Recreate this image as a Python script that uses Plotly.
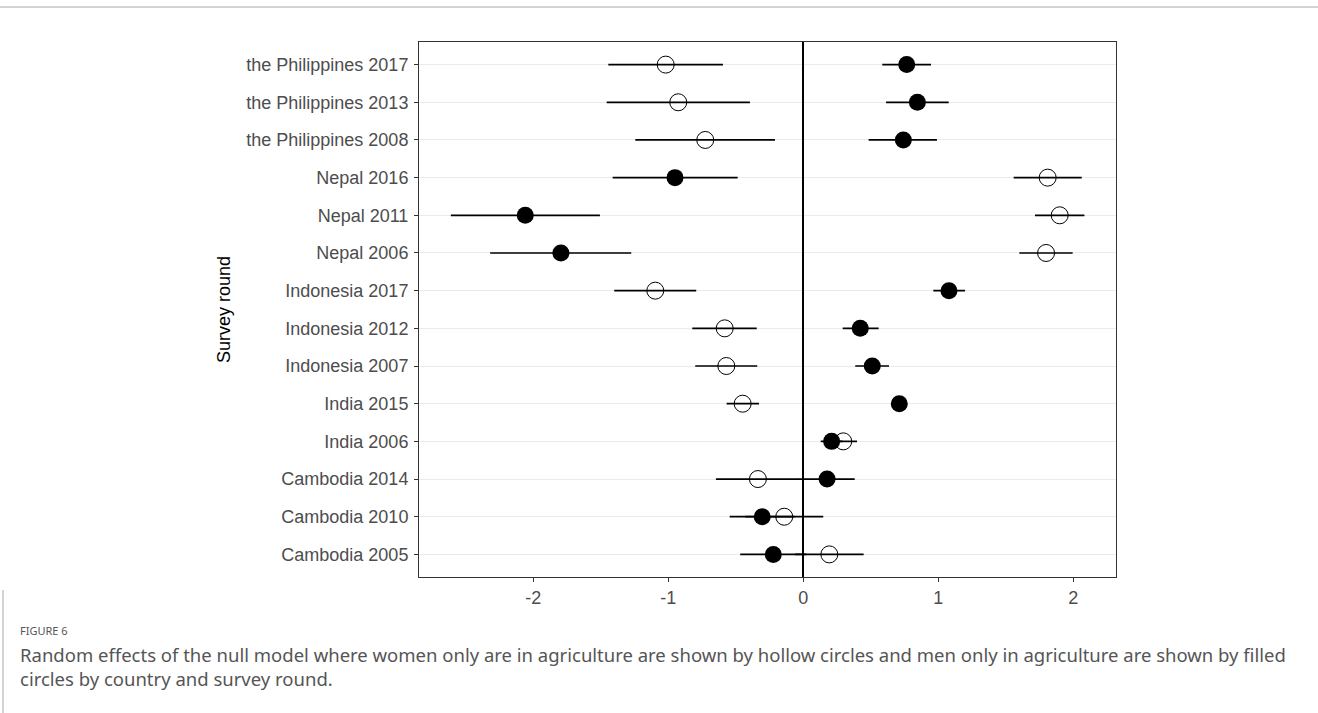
import plotly.graph_objects as go

# Survey rounds, bottom to top
rounds = ["Cambodia 2005", "Cambodia 2010", "Cambodia 2014", "India 2006", "India 2015",
          "Indonesia 2007", "Indonesia 2012", "Indonesia 2017", "Nepal 2006", "Nepal 2011",
          "Nepal 2016", "the Philippines 2008", "the Philippines 2013", "the Philippines 2017"]

# Women only in agriculture (hollow circles)
women_est = [0.193, -0.141, -0.336, 0.296, -0.449, -0.570, -0.582, -1.096, 1.798, 1.899, 1.810, -0.726, -0.926, -1.019]
women_lo = [-0.061, -0.430, -0.647, 0.194, -0.568, -0.800, -0.822, -1.400, 1.600, 1.716, 1.558, -1.244, -1.456, -1.444]
women_hi = [0.447, 0.148, -0.025, 0.398, -0.328, -0.341, -0.345, -0.793, 1.995, 2.082, 2.062, -0.210, -0.395, -0.595]

# Men only in agriculture (filled circles)
men_est = [-0.222, -0.304, 0.176, 0.210, 0.711, 0.511, 0.422, 1.079, -1.795, -2.059, -0.950, 0.741, 0.845, 0.766]
men_lo = [-0.467, -0.545, -0.029, 0.129, 0.660, 0.385, 0.292, 0.963, -2.319, -2.610, -1.412, 0.484, 0.613, 0.585]
men_hi = [0.023, -0.063, 0.381, 0.290, 0.760, 0.635, 0.558, 1.198, -1.274, -1.506, -0.486, 0.990, 1.077, 0.946]

x_ticks = [-2, -1, 0, 1, 2]

FIG_W, FIG_H = 1318, 713
L, R, T, B = 419, 1116, 42, 577


def px(x):
    return (x - L) / (R - L)


def py(y):
    return (B - y) / (B - T)


fig = go.Figure()

fig.add_trace(go.Scatter(
    x=women_est, y=rounds, mode="markers", name="Women only",
    marker=dict(symbol="circle-open", size=17, color="black", line=dict(width=1, color="black")),
    error_x=dict(type="data", symmetric=False,
                 array=[h - e for h, e in zip(women_hi, women_est)],
                 arrayminus=[e - l for e, l in zip(women_est, women_lo)],
                 color="black", thickness=1.7, width=0),
    showlegend=False,
))
fig.add_trace(go.Scatter(
    x=men_est, y=rounds, mode="markers", name="Men only",
    marker=dict(symbol="circle", size=17, color="black", line=dict(width=0)),
    error_x=dict(type="data", symmetric=False,
                 array=[h - e for h, e in zip(men_hi, men_est)],
                 arrayminus=[e - l for e, l in zip(men_est, men_lo)],
                 color="black", thickness=1.7, width=0),
    showlegend=False,
))

axis_font = dict(family="Liberation Sans, Arial, sans-serif", size=18, color="#4d4d4d")

fig.update_layout(
    width=FIG_W, height=FIG_H,
    margin=dict(l=L, r=FIG_W - R, t=T, b=FIG_H - B, autoexpand=False),
    paper_bgcolor="white", plot_bgcolor="white",
    font=dict(family="Liberation Sans, Arial, sans-serif"),
    xaxis=dict(
        range=[-2.846, 2.316], tickvals=x_ticks, ticktext=[str(v) for v in x_ticks],
        showgrid=False, zeroline=True, zerolinecolor="black", zerolinewidth=1.6,
        showline=True, mirror=True, linecolor="#333333", linewidth=1,
        ticks="outside", ticklen=4, tickcolor="#333333", tickwidth=1,
        tickfont=axis_font,
    ),
    yaxis=dict(
        type="category", categoryorder="array", categoryarray=rounds,
        range=[-0.6, len(rounds) - 0.4],
        showgrid=True, gridcolor="#ebebeb", gridwidth=1.2,
        showline=True, mirror=True, linecolor="#333333", linewidth=1,
        ticks="outside", ticklen=4, tickcolor="#333333", tickwidth=1,
        ticklabelstandoff=2,
        tickfont=axis_font,
        title=dict(text="Survey round", font=dict(family="Liberation Sans, Arial, sans-serif", size=18, color="black"), standoff=10),
    ),
    shapes=[
        dict(type="line", xref="paper", yref="paper", x0=px(0), x1=px(FIG_W), y0=py(7), y1=py(7),
             line=dict(color="#c4c4c4", width=1.5)),
        dict(type="line", xref="paper", yref="paper", x0=px(3), x1=px(3), y0=py(590), y1=py(FIG_H),
             line=dict(color="#c4c4c4", width=1.5)),
    ],
    annotations=[
        dict(text="FIGURE 6", xref="paper", yref="paper", x=px(18), y=py(630),
             xanchor="left", yanchor="middle", showarrow=False,
             font=dict(family="Noto Sans", size=11, color="#555555")),
        dict(text="Random effects of the null model where women only are in agriculture are shown by hollow circles and men only in agriculture are shown by filled",
             xref="paper", yref="paper", x=px(18), y=py(654),
             xanchor="left", yanchor="middle", showarrow=False,
             font=dict(family="Noto Sans", size=18.5, color="#555555")),
        dict(text="circles by country and survey round.",
             xref="paper", yref="paper", x=px(18), y=py(678),
             xanchor="left", yanchor="middle", showarrow=False,
             font=dict(family="Noto Sans", size=18.5, color="#555555")),
    ],
)

fig.write_html("out.html")
